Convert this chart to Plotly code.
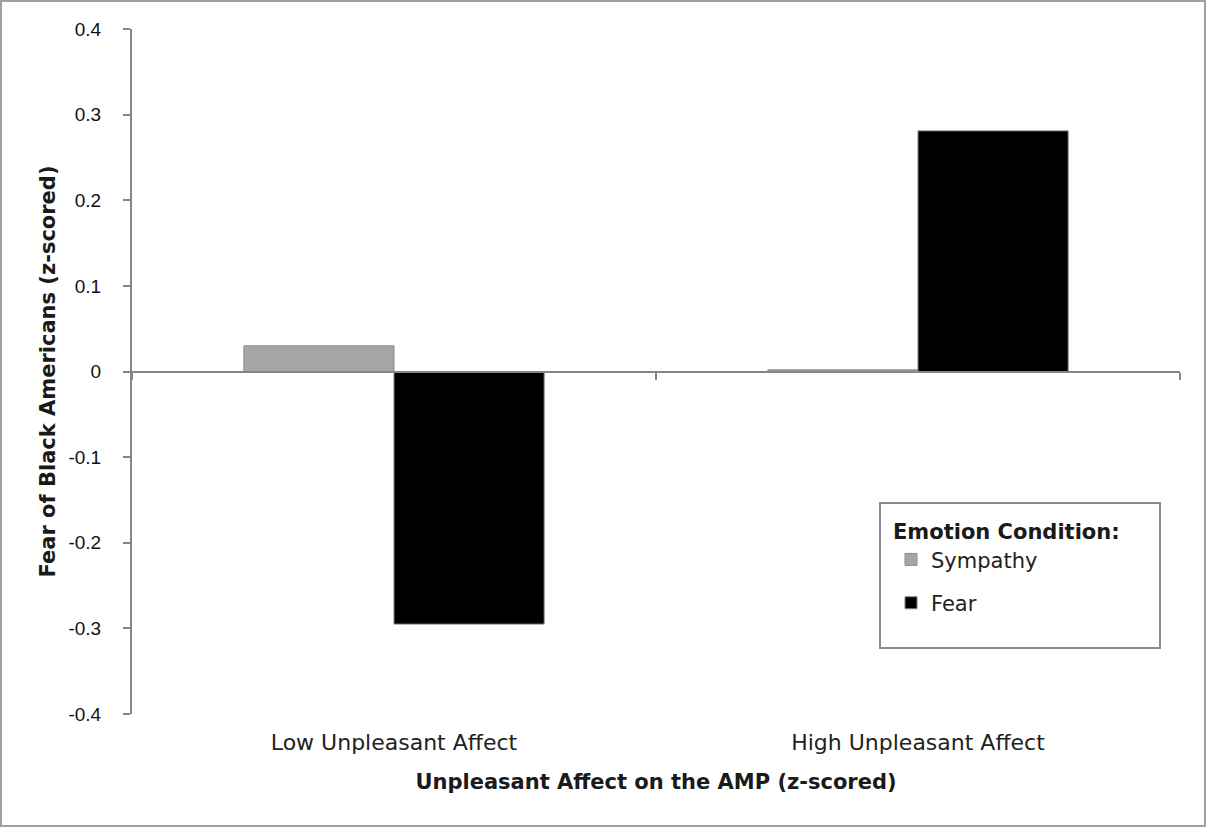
import plotly.graph_objects as go

categories = ["Low Unpleasant Affect", "High Unpleasant Affect"]
sympathy = [0.03, 0.002]
fear = [-0.295, 0.281]
y_ticks = [0.4, 0.3, 0.2, 0.1, 0, -0.1, -0.2, -0.3, -0.4]
y_tick_text = ["0.4", "0.3", "0.2", "0.1", "0", "-0.1", "-0.2", "-0.3", "-0.4"]

W, H = 1206, 827
ML, MR, MT, MB = 132, 26, 29, 113
FONT = "Liberation Sans, Arial, sans-serif"
WIDE = "DejaVu Sans, Liberation Sans, sans-serif"

fig = go.Figure()
fig.add_trace(go.Bar(x=categories, y=sympathy, name="Sympathy", legendgroup="s",
                     marker=dict(color="#a6a6a6", line=dict(color="#8c8c8c", width=1))))
fig.add_trace(go.Bar(x=categories, y=fear, name="Fear", legendgroup="f",
                     marker=dict(color="#000000", line=dict(color="#7f7f7f", width=1))))

pw = W - ML - MR
ph = H - MT - MB

def px_x(px):
    return (px - ML) / pw

def px_y(py):
    return (H - MB - py) / ph

fig.update_layout(
    width=W, height=H,
    margin=dict(l=ML, r=MR, t=MT, b=MB, pad=0),
    paper_bgcolor="white", plot_bgcolor="white",
    barmode="group", bargap=0.427, bargroupgap=0,
    font=dict(family=FONT, color="#000000", size=18),
    xaxis=dict(type="category", range=[-0.5, 1.5], showline=False, ticks="",
               showgrid=False, zeroline=False,
               tickfont=dict(family=WIDE, size=22, color="#222222"),
               ticklabelstandoff=13,
               title=dict(text="<b>Unpleasant Affect on the AMP (z-scored)</b>",
                          font=dict(family=WIDE, size=21, color="#1a1a1a"), standoff=20)),
    xaxis2=dict(overlaying="x", anchor="free", position=0.5, range=[-0.5, 1.5],
                showline=True, linecolor="#868686", linewidth=2,
                ticks="outside", tickvals=[-0.5, 0.5, 1.5], ticklen=7,
                tickcolor="#868686", tickwidth=2,
                showticklabels=False, showgrid=False, zeroline=False),
    yaxis=dict(range=[-0.4, 0.4], tickvals=y_ticks, ticktext=y_tick_text,
               showline=True, linecolor="#868686", linewidth=2,
               ticks="outside", ticklen=7, tickcolor="#868686", tickwidth=2,
               showgrid=False, zeroline=False,
               tickfont=dict(size=19, color="#111111"),
               ticklabelstandoff=18,
               title=dict(text="<b>Fear of Black Americans (z-scored)</b>",
                          font=dict(family=WIDE, size=21, color="#1a1a1a"), standoff=7)),
    legend=dict(x=px_x(891), y=px_y(512), xanchor="left", yanchor="top",
                bgcolor="rgba(0,0,0,0)", borderwidth=0,
                title=dict(text="<b>Emotion Condition:</b>",
                           font=dict(family=WIDE, size=21, color="#1a1a1a")),
                font=dict(family=WIDE, size=21, color="#222222"),
                itemwidth=30, traceorder="grouped", tracegroupgap=13),
    showlegend=True,
)

# dummy invisible trace to activate xaxis2
fig.add_trace(go.Scatter(x=[-0.5, 1.5], y=[0, 0], xaxis="x2", mode="lines",
                         line=dict(width=0), showlegend=False, hoverinfo="skip"))

# legend box
fig.add_shape(type="rect", xref="paper", yref="paper",
              x0=px_x(880), x1=px_x(1160), y0=px_y(648), y1=px_y(503),
              line=dict(color="#8c8c8c", width=2), fillcolor="white", layer="below")

# outer frame around the whole picture
fig.add_shape(type="rect", xref="paper", yref="paper",
              x0=px_x(1), x1=px_x(W - 1), y0=px_y(H - 1), y1=px_y(1),
              line=dict(color="#a0a0a0", width=2), layer="below")

fig.write_html("out.html", config={"displayModeBar": False},
               post_script="document.body.style.margin='0';")
